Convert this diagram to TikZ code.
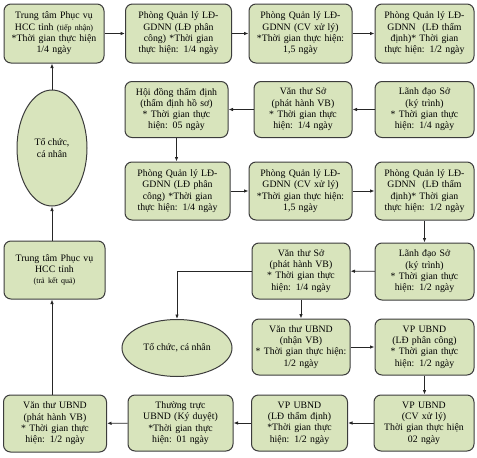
\documentclass[tikz,border=0pt]{standalone}
\usepackage{fontspec}
\setmainfont{Liberation Serif}
\usetikzlibrary{arrows.meta,shapes.geometric}
\definecolor{boxfill}{HTML}{D8E4BC}
\definecolor{boxline}{HTML}{3C3C3C}
\definecolor{arrowcol}{HTML}{262626}
\begin{document}
\begin{tikzpicture}[x=1pt,y=-1pt,
  box/.style 2 args={draw=boxline, fill=boxfill, line width=1pt, rounded corners=7pt,
    minimum width=#1pt, minimum height=#2pt, text width=#1pt, inner xsep=0pt, inner ysep=1pt,
    align=center, font=\fontsize{9.8}{11.3}\selectfont},
  oval/.style 2 args={ellipse, draw=boxline, fill=boxfill, line width=1pt,
    minimum width=#1pt, minimum height=#2pt, inner sep=0pt, align=center,
    font=\fontsize{9.8}{11.3}\selectfont},
  flow/.style={draw=arrowcol, line width=0.9pt, -{Latex[length=4.5pt,width=3.6pt]}}]
\useasboundingbox (0,0) rectangle (477,458);
% Row 1
\node[box={100}{59}] (a1) at (54,33.5) {Trung tâm Phục vụ\\ HCC tỉnh {\fontsize{8}{10}\selectfont(tiếp nhận)}\\ {*}Thời gian thực hiện\\ 1/4 ngày};
\node[box={106}{59}] (b1) at (178.5,33.5) {Phòng Quản lý LĐ-\\ GDNN (LĐ phân\\ công) *Thời gian\\ thực hiện: 1/4 ngày};
\node[box={103}{59}] (c1) at (300.5,33.5) {Phòng Quản lý LĐ-\\ GDNN (CV xử lý)\\ {*}Thời gian thực hiện:\\ 1,5 ngày};
\node[box={99}{59}] (d1) at (424.5,33.5) {Phòng Quản lý LĐ-\\ GDNN~ (LĐ thẩm\\ định)* Thời gian\\ thực hiện: 1/2 ngày};
% Ellipse 1
\node[oval={70}{116}] (e1) at (52,148) {Tổ chức,\\ cá nhân};
% Row 2
\node[box={103}{56}] (h2) at (176.5,109.5) {Hội đồng thẩm định\\ (thẩm định hồ sơ)\\ {*} Thời gian thực\\ hiện: 05 ngày};
\node[box={98}{56}] (v2) at (303,109.5) {Văn thư Sở\\ (phát hành VB)\\ {*} Thời gian thực\\ hiện: 1/4 ngày};
\node[box={99}{56}] (l2) at (424.5,109.5) {Lãnh đạo Sở\\ (ký trình)\\ {*} Thời gian thực\\ hiện: 1/4 ngày};
% Row 3
\node[box={105}{58}] (b3) at (177.5,191) {Phòng Quản lý LĐ-\\ GDNN (LĐ phân\\ công) *Thời gian\\ thực hiện: 1/4 ngày};
\node[box={103}{58}] (c3) at (300.5,191) {Phòng Quản lý LĐ-\\ GDNN (CV xử lý)\\ {*}Thời gian thực hiện:\\ 1,5 ngày};
\node[box={99}{58}] (d3) at (424.5,191) {Phòng Quản lý LĐ-\\ GDNN~ (LĐ thẩm\\ định)* Thời gian\\ thực hiện: 1/2 ngày};
% Row 4
\node[box={101}{58}] (t4) at (54.5,270) {Trung tâm Phục vụ\\ HCC tỉnh\\ {\fontsize{8}{10}\selectfont(trả kết quả)}\\[8pt]};
\node[box={98}{56}] (v4) at (301,271) {Văn thư Sở\\ (phát hành VB)\\ {*} Thời gian thực\\ hiện: 1/4 ngày};
\node[box={99}{57}] (l4) at (424.5,271.5) {Lãnh đạo Sở\\ (ký trình)\\ {*} Thời gian thực\\ hiện: 1/2 ngày};
% Ellipse 2 and row 5
\node[oval={110}{57}] (e2) at (177,348) {Tổ chức, cá nhân};
\node[box={98}{56}] (v5) at (301,347) {Văn thư UBND\\ (nhận VB)\\ {*} Thời gian thực hiện:\\ 1/2 ngày};
\node[box={99}{56}] (p5) at (424.5,347) {VP UBND\\ (LĐ phân công)\\ {*} Thời gian thực\\ hiện: 1/2 ngày};
% Row 6
\node[box={103}{57}] (v6) at (55,423.5) {Văn thư UBND\\ (phát hành VB)\\ {*} Thời gian thực\\ hiện: 1/2 ngày};
\node[box={105}{56}] (t6) at (180.5,423) {Thường trực\\ UBND (Ký duyệt)\\ {*}Thời gian thực\\ hiện: 01 ngày};
\node[box={96}{56}] (l6) at (299.5,423) {VP UBND\\ (LĐ thẩm định)\\ {*}Thời gian thực\\ hiện: 1/2 ngày};
\node[box={100}{56}] (p6) at (424,423) {VP UBND\\ (CV xử lý)\\ Thời gian thực hiện\\ 02 ngày};
% Connectors
\draw[flow] (a1) -- (b1);
\draw[flow] (b1) -- (c1);
\draw[flow] (c1) -- (d1);
\draw[flow] (e1.north) -- (e1.north |- a1.south);
\draw[flow] (t4.north -| e1.south) -- (e1.south);
\draw[flow] (v6.north -| e1.south) -- (e1.south |- t4.south);
\draw[flow] (l2) -- (v2);
\draw[flow] (v2) -- (h2);
\draw[flow] (h2) -- (h2 |- b3.north);
\draw[flow] (b3) -- (c3);
\draw[flow] (c3) -- (d3);
\draw[flow] (d3) -- (d3 |- l4.north);
\draw[flow] (l4) -- (v4);
\draw[flow] (v4.west) -| (e2.north);
\draw[flow] (v4.south) -- (v4.south |- v5.north);
\draw[flow] (v5) -- (p5);
\draw[flow] (p5) -- (p5.south |- p6.north);
\draw[flow] (p6) -- (l6);
\draw[flow] (l6) -- (t6);
\draw[flow] (t6) -- (v6);
\end{tikzpicture}
\end{document}
